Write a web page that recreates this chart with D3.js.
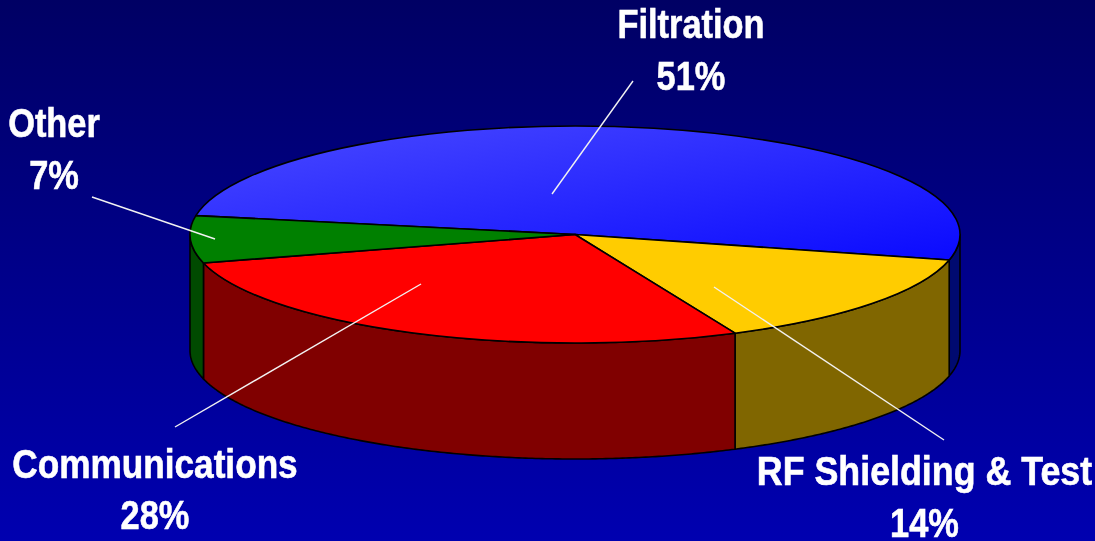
<!DOCTYPE html>
<html><head><meta charset="utf-8">
<script src="https://cdn.jsdelivr.net/npm/d3@7/dist/d3.min.js"></script>
<style>html,body{margin:0;padding:0;background:#000080;overflow:hidden}svg{display:block}</style>
</head><body>
<svg id="chart" width="1095" height="541"></svg>
<script>
const categories = ["Filtration", "RF Shielding & Test", "Communications", "Other"];
const shares = [51, 14.4, 27.6, 7];
const shareLabels = ["51%", "14%", "28%", "7%"];

const W = 1095, H = 541;
const cx = 575, cy = 234.5, rx = 385, ry = 108.5, depth = 116;
const topColors = ["url(#blueTop)", "#ffcc00", "#ff0000", "#008000"];
const sideColors = ["#000a70", "#806600", "#800000", "#004a00"];
// callout layout: leader from/to, text centre + baselines, horizontal squeeze; same order as categories
const callouts = [
  {from:[552,194], to:[633,81],  tx:691, y1:38,  y2:90,  sx:0.86},
  {from:[714,287], to:[944,440], tx:924.5, y1:485, y2:537, sx:0.895},
  {from:[421,284], to:[175,427], tx:155, y1:478, y2:529, sx:0.88},
  {from:[215,239], to:[92,197],  tx:54,  y1:137, y2:189, sx:0.86}
];

const svg = d3.select("#chart");
const defs = svg.append("defs");
const bg = defs.append("linearGradient").attr("id","bg").attr("x1",0).attr("y1",0).attr("x2",0).attr("y2",1);
bg.append("stop").attr("offset",0).attr("stop-color","#000064");
bg.append("stop").attr("offset",1).attr("stop-color","#0000b0");
const bt = defs.append("linearGradient").attr("id","blueTop").attr("x1",0).attr("y1",0).attr("x2",1).attr("y2",1);
bt.append("stop").attr("offset",0).attr("stop-color","#4a4aff");
bt.append("stop").attr("offset",1).attr("stop-color","#0a0aff");
defs.append("filter").attr("id","soft").append("feGaussianBlur").attr("stdDeviation",0.5);

svg.append("rect").attr("width",W).attr("height",H).attr("fill","url(#bg)");

const deg = Math.PI/180;
const pie = d3.pie().sort(null).startAngle(280*deg).endAngle(640*deg);
const slices = pie(shares);

// side walls: visible only on the front half of the ellipse
const frontLo = 450*deg, frontHi = 630*deg;
const wall = d3.area()
  .x(a => cx + rx*Math.sin(a))
  .y0(a => cy - ry*Math.cos(a))
  .y1(a => cy - ry*Math.cos(a) + depth);
const walls = svg.append("g").attr("stroke","#000").attr("stroke-width",1.6).attr("stroke-linejoin","round");
slices.forEach((s,i) => {
  const lo = Math.max(s.startAngle, frontLo), hi = Math.min(s.endAngle, frontHi);
  if (hi <= lo) return;
  const n = Math.ceil((hi-lo)/(0.5*deg));
  const angles = d3.range(n+1).map(k => lo + (hi-lo)*k/n);
  walls.append("path").attr("d", wall(angles)).attr("fill", sideColors[i]);
});

// top face: circular arcs squashed to an ellipse
const arc = d3.arc().innerRadius(0).outerRadius(rx);
svg.append("g").attr("transform",`translate(${cx},${cy}) scale(1,${ry/rx})`)
  .selectAll("path").data(slices).join("path")
  .attr("d", arc)
  .attr("fill",(d,i)=>topColors[i])
  .attr("stroke","#000").attr("stroke-width",1.6)
  .attr("vector-effect","non-scaling-stroke")
  .attr("stroke-linejoin","round");

// leaders
svg.append("g").selectAll("line").data(callouts).join("line")
  .attr("x1",d=>d.from[0]).attr("y1",d=>d.from[1])
  .attr("x2",d=>d.to[0]).attr("y2",d=>d.to[1])
  .attr("stroke","#f2f2f2").attr("stroke-width",1.4);

// labels
const labels = svg.append("g").attr("fill","#fff").attr("stroke","#fff").attr("stroke-width",0.6)
  .attr("font-family","'Liberation Sans',Arial,sans-serif")
  .attr("font-weight","bold").attr("font-size",40)
  .attr("text-anchor","middle").attr("filter","url(#soft)");
categories.forEach((c,i) => {
  const p = callouts[i];
  labels.append("text").attr("transform",`translate(${p.tx},${p.y1}) scale(${p.sx},1)`).text(c);
  labels.append("text").attr("transform",`translate(${p.tx},${p.y2}) scale(0.86,1)`).text(shareLabels[i]);
});
</script>
</body></html>
